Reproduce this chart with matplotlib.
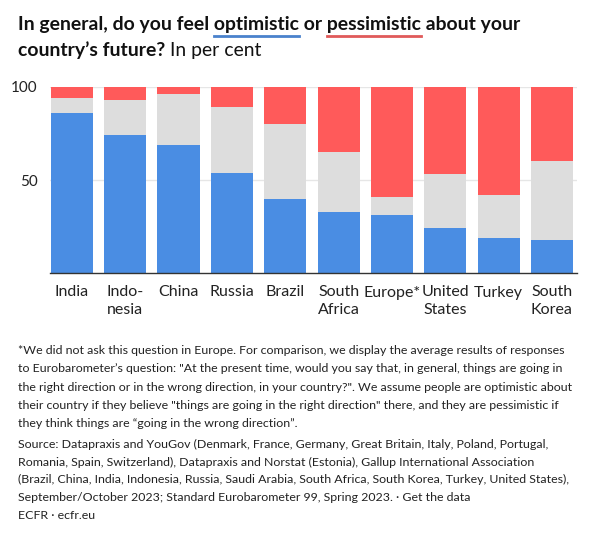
import matplotlib.pyplot as plt
import numpy as np

countries = ['India', 'Indo-\nnesia', 'China', 'Russia', 'Brazil', 'South\nAfrica',
             'Europe*', 'United\nStates', 'Turkey', 'South\nKorea']
optimistic = [86, 74, 69, 54, 40, 33, 31, 24, 19, 18]
neutral = [8, 19, 27, 35, 40, 32, 10, 29, 23, 42]
pessimistic = [6, 7, 4, 11, 20, 35, 59, 47, 58, 40]
yticks = [50, 100]

footnote = [
    '*We did not ask this question in Europe. For comparison, we display the average results of responses',
    'to Eurobarometer\u2019s question: "At the present time, would you say that, in general, things are going in',
    'the right direction or in the wrong direction, in your country?". We assume people are optimistic about',
    'their country if they believe "things are going in the right direction" there, and they are pessimistic if',
    'they think things are \u201cgoing in the wrong direction\u201d.',
]
source = [
    'Source: Datapraxis and YouGov (Denmark, France, Germany, Great Britain, Italy, Poland, Portugal,',
    'Romania, Spain, Switzerland), Datapraxis and Norstat (Estonia), Gallup International Association',
    '(Brazil, China, India, Indonesia, Russia, Saudi Arabia, South Africa, South Korea, Turkey, United States),',
    'September/October 2023; Standard Eurobarometer 99, Spring 2023. \u00b7 Get the data',
    'ECFR \u00b7 ecfr.eu',
]

BLUE = '#4a8de3'
GREY = '#dddddd'
RED = '#ff5a5a'
FONT = 'Lato'
W, H = 602, 542

plt.rcParams['font.family'] = [FONT, 'DejaVu Sans']
fig = plt.figure(figsize=(W / 100, H / 100), dpi=100)
renderer = fig.canvas.get_renderer()


def text_width(s, size, weight='normal'):
    t = fig.text(0, 0, s, fontsize=size, fontweight=weight)
    w = t.get_window_extent(renderer).width
    t.remove()
    return w


def fit_size(s, target, weight='normal'):
    return 10 * target / text_width(s, 10, weight)


def put(x, y, s, **kw):
    return fig.text(x / W, 1 - y / H, s, va='baseline', **kw)


# chart
ax = fig.add_axes([50 / W, 1 - 273 / H, 527 / W, 186 / H])
x = np.arange(len(countries))
ax.bar(x, optimistic, width=0.79, color=BLUE, zorder=3)
ax.bar(x, neutral, width=0.79, bottom=optimistic, color=GREY, zorder=3)
ax.bar(x, pessimistic, width=0.79, bottom=np.add(optimistic, neutral), color=RED, zorder=3)
ax.set_xlim(-0.41, 9.47)
ax.set_ylim(0, 100)
ax.set_yticks(yticks)
ax.set_yticklabels([str(v) for v in yticks], fontsize=11, color='#222222')
ax.set_xticks(x)
ax.set_xticklabels(countries, fontsize=11.5, color='#222222', linespacing=1.35, va='top')
ax.tick_params(axis='y', length=0, pad=9)
ax.tick_params(axis='x', length=0, pad=9)
ax.grid(axis='y', color='#e6e6e6', linewidth=1, zorder=0)
for side in ['top', 'right', 'left']:
    ax.spines[side].set_visible(False)
ax.spines['bottom'].set_color('#333333')
ax.spines['bottom'].set_linewidth(1)
ax.spines['bottom'].set_zorder(4)

# title with underlined words
line1 = 'In general, do you feel optimistic or pessimistic about your'
tsize = fit_size(line1, 504, 'bold')
put(18, 30, line1, fontsize=tsize, fontweight='bold', color='#111111')
for word, upto, col in [('optimistic', 'In general, do you feel optimistic', '#4a82cc'),
                        ('pessimistic', 'In general, do you feel optimistic or pessimistic', '#e05a5a')]:
    end = 18 + text_width(upto, tsize, 'bold')
    start = end - text_width(word, tsize, 'bold')
    fig.add_artist(plt.Line2D([start / W, end / W], [1 - 35.5 / H, 1 - 35.5 / H],
                              color=col, linewidth=2))

part = 'country\u2019s future?'
put(18, 56, part, fontsize=tsize, fontweight='bold', color='#111111')
gap = text_width('a a', tsize) - text_width('aa', tsize)
put(18 + text_width(part, tsize, 'bold') + gap, 56, 'In per cent', fontsize=tsize, color='#111111')

# notes
nsize = fit_size(footnote[0], 550)
for i, s in enumerate(footnote):
    put(18, 354 + i * 18.3, s, fontsize=nsize, color='#222222')
for i, s in enumerate(source):
    put(18, 448 + i * 17.7, s, fontsize=nsize, color='#222222')

fig.savefig('out.png', dpi=100)
